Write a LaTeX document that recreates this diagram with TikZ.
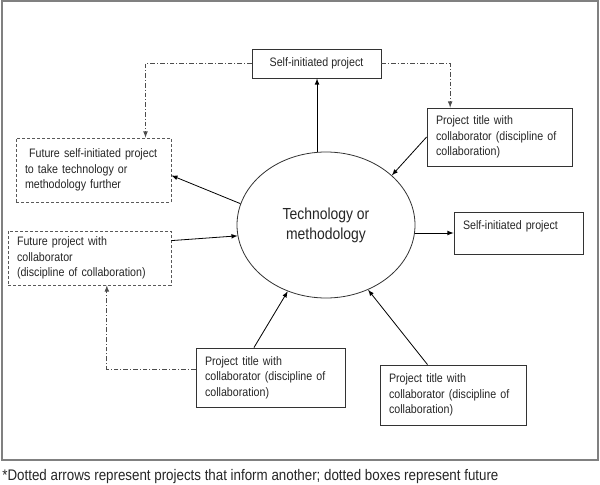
\documentclass[tikz,border=0pt]{standalone}
\usepackage{fontspec}
\setmainfont{Liberation Sans}[FakeStretch=0.87]
\usetikzlibrary{shapes.geometric}

\begin{document}
\begin{tikzpicture}[x=0.75pt, y=-0.75pt, >=latex, line width=0.6pt,
	box/.style={draw=black!80, inner xsep=6.75pt, inner ysep=0pt, align=left, text=black!85, font=\fontsize{9.2}{11.6}\selectfont},
	future/.style={box, draw=black!65, dash pattern=on 2.25pt off 1.5pt},
	inform/.style={->, draw=black!70, dash pattern=on 3.5pt off 1.5pt on 0.75pt off 1.5pt}]
	\useasboundingbox (0,0) rectangle (600,485);
	\draw[black!50, line width=1.1pt] (2,1) rectangle (598,460);
	\node (Tech) [ellipse, draw=black!80, minimum width=133.5pt, minimum height=109.5pt, inner sep=0pt, align=center, text=black!85, font=\fontsize{12}{15}\selectfont] at (326,225) {Technology or\\methodology};
	\node (SelfTop) [box, minimum width=96.75pt, minimum height=21.75pt, align=center] at (316.5,63.5) {Self-initiated project};
	\node (CollabRight) [box, text width=95.25pt, minimum height=43.5pt] at (499.5,137) {Project title with\\collaborator (discipline of\\collaboration)};
	\node (SelfRight) [box, text width=83.25pt, minimum height=31.5pt] at (518.5,233) {Self-initiated project\\\mbox{}};
	\node (FutSelf) [future, text width=102.75pt, minimum height=48pt] at (93.5,170) {~Future self-initiated project\\to take technology or\\methodology further};
	\node (FutCollab) [future, text width=108.75pt, minimum height=40.5pt] at (89.5,258) {Future project with\\collaborator\\(discipline of collaboration)};
	\node (CollabA) [box, text width=98.25pt, minimum height=44.25pt] at (270.5,377.5) {Project title with\\collaborator (discipline of\\collaboration)};
	\node (CollabB) [box, text width=96pt, minimum height=45pt] at (453,395) {Project title with\\collaborator (discipline of\\collaboration)};
	\node (Note) [anchor=west, inner sep=0pt, text=black!85, font=\fontsize{11.5}{13}\selectfont] at (2,477) {*Dotted arrows represent projects that inform another; dotted boxes represent future};
	\draw[->] (Tech.97) -- (Tech.97 |- SelfTop.south);
	\draw[->] (CollabRight.west) -- (Tech.37);
	\draw[->] (Tech.east |- SelfRight.west) -- (SelfRight.west);
	\draw[->] (Tech.166) -- (FutSelf.-4);
	\draw[->] (FutCollab.12) -- (Tech.187);
	\draw[->] (CollabA.119) -- (Tech.240);
	\draw[->] (CollabB.130) -- (Tech.303);
	\draw[inform] (SelfTop.west) -| ([xshift=39pt]FutSelf.north);
	\draw[inform] (SelfTop.east) -| ([xshift=-37pt]CollabRight.north);
	\draw[inform] ([yshift=6.4pt]CollabA.west) -| ([xshift=13pt]FutCollab.south);
\end{tikzpicture}
\end{document}
